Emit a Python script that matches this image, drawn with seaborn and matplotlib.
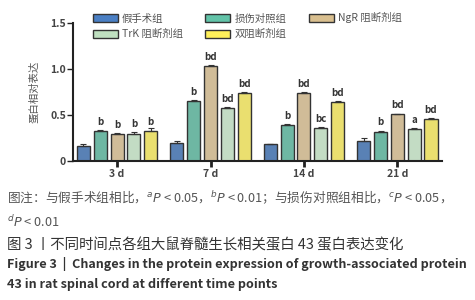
import numpy as np
import pandas as pd
import matplotlib
matplotlib.use("Agg")
import matplotlib.pyplot as plt
import matplotlib.patches as mpatches
import seaborn as sns

sns.set_style("white")
plt.rcParams['font.family'] = ['Noto Sans CJK SC', 'DejaVu Sans']
plt.rcParams['mathtext.fontset'] = 'dejavusans'

# data
days = ["3 d", "7 d", "14 d", "21 d"]
groups = ["假手术组", "损伤对照组", "NgR 阻断剂组", "TrK 阻断剂组", "双阻断剂组"]
sham = [0.16, 0.20, 0.185, 0.22]
injury = [0.325, 0.655, 0.39, 0.32]
ngr = [0.295, 1.035, 0.74, 0.51]
trk = [0.30, 0.58, 0.36, 0.345]
double = [0.325, 0.74, 0.645, 0.46]
sham_err = [0.025, 0.015, 0.005, 0.03]
injury_err = [0.012, 0.008, 0.012, 0.012]
ngr_err = [0.008, 0.008, 0.012, 0.005]
trk_err = [0.015, 0.01, 0.008, 0.01]
double_err = [0.03, 0.012, 0.012, 0.01]
sig_sham = ["", "", "", ""]
sig_injury = ["b", "b", "b", "b"]
sig_ngr = ["b", "bd", "bd", "bd"]
sig_trk = ["b", "bd", "bc", "a"]
sig_double = ["b", "bd", "bd", "bd"]

colors = ["#4a7fc4", "#62c3a8", "#d9bf8f", "#bfe0c0", "#fff05a"]

values = [sham, injury, ngr, trk, double]
errs = [sham_err, injury_err, ngr_err, trk_err, double_err]
sigs = [sig_sham, sig_injury, sig_ngr, sig_trk, sig_double]

df = pd.DataFrame({
    "day": np.tile(days, len(groups)),
    "group": np.repeat(groups, len(days)),
    "value": np.concatenate(values),
})

fig = plt.figure(figsize=(4.75, 3.0), dpi=100)
ax = fig.add_axes([0.154, 0.463, 0.777, 0.46])

sns.barplot(data=df, x="day", y="value", hue="group", order=days,
            hue_order=groups, palette=colors, errorbar=None, ax=ax,
            width=0.9, gap=0.22, edgecolor="#333333", linewidth=1.0,
            legend=False)

for cont, err, sig in zip(ax.containers, errs, sigs):
    xs = [p.get_x() + p.get_width() / 2 for p in cont]
    hs = [p.get_height() for p in cont]
    ax.errorbar(xs, hs, yerr=[np.zeros(len(err)), err], fmt="none",
                ecolor="#333333", elinewidth=0.8, capsize=2.5, capthick=0.8)
    ax.bar_label(cont, labels=sig, padding=3, fontsize=7, color="#333333",
                 fontweight="bold")

ax.set_ylim(0, 1.5)
ax.set_xlim(-0.47, 3.48)
ax.set_yticks([0, 0.5, 1.0, 1.5])
ax.set_yticklabels(["0", "0.5", "1.0", "1.5"])
ax.set_xlabel("")
ax.set_ylabel("蛋白相对表达", fontsize=7.5, color="#555555", labelpad=8)
sns.despine(ax=ax)
for s in ["left", "bottom"]:
    ax.spines[s].set_linewidth(1.5)
    ax.spines[s].set_color("#222222")
ax.tick_params(axis="y", direction="out", length=4, width=1, labelsize=7.5,
               colors="#222222", labelcolor="#444444", left=True, pad=1)
ax.tick_params(axis="x", direction="out", length=4, width=2, labelsize=7.5,
               colors="#222222", labelcolor="#444444", bottom=True, pad=2)
for t in ax.get_xticklabels() + ax.get_yticklabels():
    t.set_fontweight("bold")

handles = [mpatches.Patch(facecolor=c, edgecolor="#333333", linewidth=1.0)
           for c in colors]
order = [0, 3, 1, 4, 2]
fig.legend([handles[i] for i in order], [groups[i] for i in order],
           loc="upper left", bbox_to_anchor=(0.175, 0.99), ncol=3,
           frameon=False, fontsize=7.5, handlelength=2.4, handleheight=0.8,
           handletextpad=0.4, columnspacing=2.15, labelspacing=0.55,
           labelcolor="#555555")

fig.text(0.015, 0.343,
         "图注：与假手术组相比，$^{a}P$ < 0.05，$^{b}P$ < 0.01；与损伤对照组相比，$^{c}P$ < 0.05，",
         fontsize=9.15, color="#555555", va="center")
fig.text(0.015, 0.26, "$^{d}P$ < 0.01", fontsize=9.15, color="#555555",
         va="center")
fig.text(0.015, 0.183, "图 3 丨不同时间点各组大鼠脊髓生长相关蛋白 43 蛋白表达变化",
         fontsize=10.4, color="#333333", va="center")
fig.text(0.015, 0.12,
         "Figure 3  |  Changes in the protein expression of growth-associated protein",
         fontsize=9.1, color="#333333", va="center", fontweight="bold")
fig.text(0.015, 0.053, "43 in rat spinal cord at different time points",
         fontsize=9.1, color="#333333", va="center", fontweight="bold")

fig.savefig("out.png", dpi=100)
